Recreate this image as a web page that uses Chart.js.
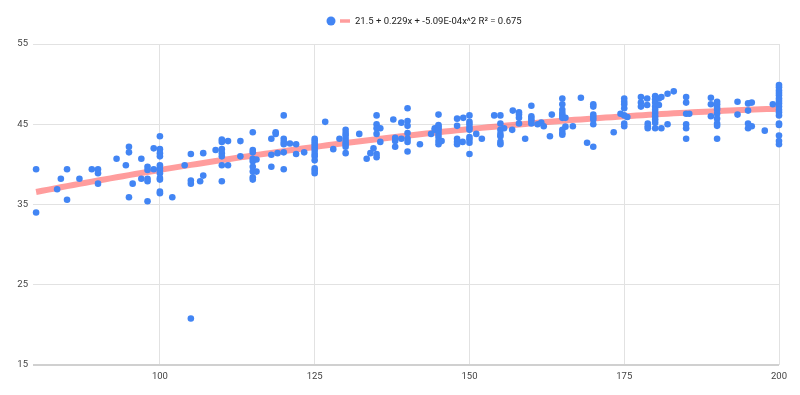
<!DOCTYPE html>
<html>
<head>
<meta charset="utf-8">
<script src="https://cdn.jsdelivr.net/npm/chart.js@4.4.1/dist/chart.umd.min.js"></script>
<style>
  html, body { margin: 0; padding: 0; background: #ffffff; }
  #wrap { width: 800px; height: 395px; position: relative; }
</style>
</head>
<body>
<div id="wrap"><canvas id="c" width="800" height="395"></canvas></div>
<script>
// ---- Data ----
const xValues = [
  80, 80, 83.4, 84, 85, 85, 87, 89, 90, 90, 90, 93, 94.5, 95, 95, 95, 95.6, 97, 97,
  98, 98, 98, 98, 98, 99, 99,
  100, 100, 100, 100, 100, 100, 100, 100, 100, 100, 100, 100,
  102, 104, 105, 105, 105, 105, 106.5, 107, 107, 109,
  110, 110, 110, 110, 110, 110, 110, 111, 111, 113, 113,
  115, 115, 115, 115, 115, 115, 115, 115, 115, 115.6, 115.6,
  118, 118, 118, 118.7, 118.7, 119,
  120, 120, 120, 120, 120, 120, 121, 122, 122, 123.3,
  125, 125, 125, 125, 125, 125, 125, 125, 125, 125, 125, 125,
  126.7, 128, 129,
  130, 130, 130, 130, 130, 130, 130, 130,
  132.2, 133.4, 134, 134.5,
  135, 135, 135, 135, 135, 135, 135.6, 135.6, 137.7, 138, 138, 138, 139, 139,
  140, 140, 140, 140, 140, 140, 140, 142, 143.8, 144.4, 144.4,
  145, 145, 145, 145, 145, 145, 145, 145, 145, 145.5,
  148, 148, 148, 148, 148, 148.9, 149,
  150, 150, 150, 150, 150, 150, 150, 150, 150,
  151.1, 152, 154,
  155, 155, 155, 155, 155, 155, 155, 155.6, 156.9, 157,
  158, 158, 158, 158, 159,
  160, 160, 160, 160, 160, 161, 161.6, 162, 163, 163.3,
  165, 165, 165, 165, 165, 165, 165, 165, 165, 165.5, 165.5, 166.7, 168, 169,
  170, 170, 170, 170, 170, 170, 170, 173.3, 174.4,
  175, 175, 175, 175, 175, 175, 175, 175.5,
  177.7, 177.7, 177.7, 178.7, 178.7, 178.8, 178.8, 178.8,
  180, 180, 180, 180, 180, 180, 180, 180, 180, 180, 180.6, 180.6,
  181, 181, 182, 182, 183,
  185, 185, 185, 185, 185, 185, 185.5,
  189, 189, 189,
  190, 190, 190, 190, 190, 190, 190, 190, 190,
  193.3, 193.3, 195, 195, 195, 195, 195.6, 195.6, 197.7, 199,
  200, 200, 200, 200, 200, 200, 200, 200, 200, 200, 200, 200, 200, 200, 200, 200, 200
];
const yValues = [
  39.4, 34.0, 36.9, 38.2, 39.4, 35.6, 38.2, 39.4, 39.4, 38.9, 37.6, 40.7, 39.9, 42.2, 41.5, 35.9, 37.6, 40.7, 38.2,
  39.7, 39.3, 38.2, 37.9, 35.4, 42.0, 39.4,
  43.5, 41.9, 41.4, 41.0, 39.9, 39.5, 39.2, 38.9, 38.3, 38.1, 36.6, 36.4,
  35.9, 39.9, 41.3, 38.0, 37.6, 20.8, 37.9, 41.4, 38.6, 41.8,
  43.1, 42.8, 41.9, 41.4, 41.0, 39.9, 37.9, 42.9, 39.9, 42.9, 41.0,
  44.0, 41.8, 41.5, 40.7, 40.4, 39.7, 39.1, 38.4, 38.1, 40.6, 39.1,
  43.2, 41.2, 39.7, 43.8, 44.0, 41.4,
  46.1, 43.2, 42.8, 42.5, 41.5, 39.4, 42.6, 42.5, 41.3, 41.5,
  43.2, 42.9, 42.6, 42.3, 42.0, 41.7, 41.3, 41.0, 40.5, 39.5, 39.2, 38.9,
  45.3, 41.9, 43.2,
  44.3, 43.9, 43.6, 43.2, 42.8, 42.5, 42.2, 41.4,
  43.8, 40.7, 41.4, 42.0,
  46.1, 45.0, 44.5, 43.8, 41.3, 40.9, 44.5, 42.8, 45.6, 43.3, 42.9, 42.2, 45.2, 43.2,
  47.0, 45.4, 44.8, 43.9, 43.2, 42.8, 41.6, 42.5, 43.8, 44.3, 44.5,
  46.2, 44.9, 44.7, 44.5, 44.2, 43.8, 43.4, 42.9, 42.5, 42.9,
  45.7, 44.8, 43.2, 42.8, 42.5, 42.8, 45.8,
  46.1, 45.3, 45.0, 44.6, 44.3, 43.4, 43.1, 42.7, 41.3,
  43.8, 43.2, 46.1,
  46.1, 45.1, 44.3, 43.8, 43.5, 42.8, 42.5, 44.5, 44.3, 46.7,
  46.5, 46.2, 45.8, 45.1, 43.2,
  47.3, 46.0, 45.7, 45.4, 45.1, 45.0, 45.2, 44.75, 43.5, 46.2,
  48.2, 47.5, 46.8, 46.4, 46.1, 45.8, 44.3, 43.9, 43.7, 45.8, 44.7, 44.75, 48.3, 42.7,
  47.5, 47.2, 46.2, 45.9, 45.6, 45.0, 42.2, 44.0, 46.3,
  48.2, 47.8, 47.5, 47.0, 46.1, 45.1, 44.75, 45.9,
  48.4, 47.7, 47.2, 48.2, 47.4, 45.1, 44.75, 44.5,
  48.5, 48.1, 47.7, 47.2, 46.8, 46.4, 46.0, 45.6, 45.2, 44.5, 48.2, 47.4,
  48.4, 44.5, 48.8, 45.0, 49.1,
  48.4, 47.7, 46.3, 45.0, 44.5, 43.2, 46.3,
  48.3, 47.5, 46.0,
  47.8, 47.5, 47.1, 46.8, 46.3, 45.7, 45.1, 44.8, 43.2,
  47.8, 46.2, 47.6, 46.7, 45.1, 44.5, 47.7, 44.75, 44.2, 47.5,
  49.9, 49.6, 49.2, 48.9, 48.6, 48.2, 47.9, 47.6, 47.2, 46.8, 46.5, 46.1, 45.1, 44.9, 43.6, 42.9, 42.5
];
// Trendline as stated in the legend: 21.5 + 0.229x + -5.09E-04x^2
const trendCoefficients = [21.5, 0.229, -5.09e-4];
const trendLabel = "21.5 + 0.229x + -5.09E-04x^2 R\u00B2 = 0.675";
const xTicks = [100, 125, 150, 175, 200];
const yTicks = [15, 25, 35, 45, 55];
const xRange = [79.5, 200];
const yRange = [15, 55];

// ---- Build datasets ----
const scatterPoints = xValues.map((x, i) => ({ x: x, y: yValues[i] }));
const trendPoints = [];
for (let x = 80; x <= xRange[1]; x += 1) {
  trendPoints.push({ x: x, y: trendCoefficients[0] + trendCoefficients[1] * x + trendCoefficients[2] * x * x });
}

const BLUE = '#4285F4';
const TREND = 'rgba(255, 110, 110, 0.68)';
const FONT = 'Roboto, "Noto Sans", Arial, sans-serif';

const legendPlugin = {
  id: 'customLegend',
  afterDraw(chart) {
    const ctx = chart.ctx;
    ctx.save();
    const y = 21;
    ctx.fillStyle = BLUE;
    ctx.beginPath();
    ctx.arc(331, y, 4.5, 0, Math.PI * 2);
    ctx.fill();
    ctx.strokeStyle = TREND;
    ctx.lineWidth = 3.5;
    ctx.beginPath();
    ctx.moveTo(340, y);
    ctx.lineTo(350, y);
    ctx.stroke();
    ctx.fillStyle = '#222222';
    ctx.font = '9.5px ' + FONT;
    ctx.textBaseline = 'middle';
    ctx.textAlign = 'left';
    ctx.fillText(trendLabel, 355, y + 0.5);
    ctx.restore();
  }
};

new Chart(document.getElementById('c'), {
  type: 'scatter',
  data: {
    datasets: [
      {
        label: '',
        data: scatterPoints,
        backgroundColor: BLUE,
        borderColor: BLUE,
        pointRadius: 3.3,
        pointHoverRadius: 3.3,
        borderWidth: 0,
        clip: false,
        order: 0
      },
      {
        type: 'line',
        label: trendLabel,
        data: trendPoints,
        borderColor: TREND,
        borderWidth: 6,
        pointRadius: 0,
        fill: false,
        tension: 0,
        order: 1
      }
    ]
  },
  options: {
    responsive: false,
    animation: false,
    devicePixelRatio: 1,
    layout: { padding: { top: 44, right: 21, left: 0, bottom: 0 } },
    plugins: {
      legend: { display: false },
      tooltip: { enabled: false }
    },
    scales: {
      x: {
        type: 'linear',
        min: xRange[0],
        max: xRange[1],
        afterBuildTicks: (axis) => { axis.ticks = xTicks.map(v => ({ value: v })); },
        afterFit: (scale) => { scale.height = 30; },
        grid: { color: '#e2e2e2', lineWidth: 1, drawTicks: false },
        border: { display: false },
        ticks: { color: '#444444', font: { family: FONT, size: 9.5 }, padding: 6, maxRotation: 0 }
      },
      y: {
        type: 'linear',
        min: yRange[0],
        max: yRange[1],
        afterBuildTicks: (axis) => { axis.ticks = yTicks.map(v => ({ value: v })); },
        afterFit: (scale) => { scale.width = 33; },
        grid: {
          color: (c) => (c.tick && c.tick.value === yRange[0]) ? '#d0d0d0' : '#e2e2e2',
          lineWidth: (c) => (c.tick && c.tick.value === yRange[0]) ? 2 : 1,
          drawTicks: false
        },
        border: { display: false },
        ticks: { color: '#444444', font: { family: FONT, size: 9.5 }, padding: 5 }
      }
    }
  },
  plugins: [legendPlugin]
});
</script>
</body>
</html>
